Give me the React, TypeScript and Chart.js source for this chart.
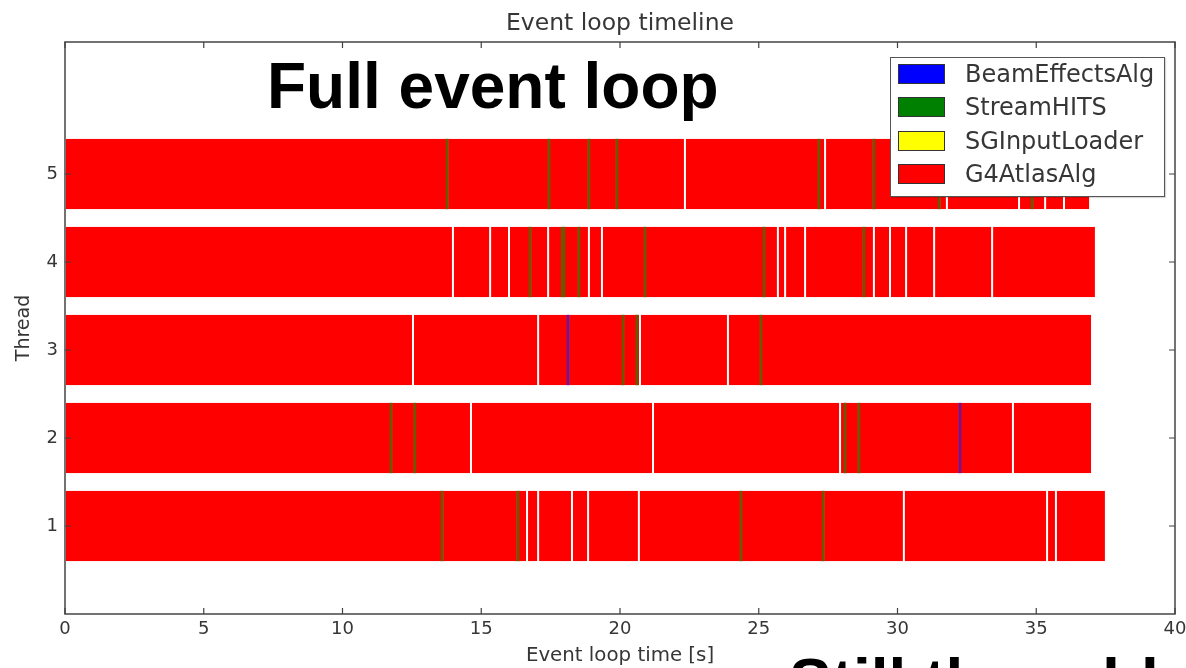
import React, { useEffect, useRef } from 'react';
import { Chart, registerables } from 'chart.js';

Chart.register(...registerables);

// ---------- data ----------
const threads = [1, 2, 3, 4, 5];
const seriesNames = ['BeamEffectsAlg', 'StreamHITS', 'SGInputLoader', 'G4AtlasAlg'];
const seriesColors = ['#0000ff', '#008000', '#ffff00', '#ff0000'];
// colours the thin marks take on top of the red bars in the picture
const markColors = ['rgb(112,20,150)', 'rgb(108,88,0)', '#ffff00', '#ff0000'];

// G4AtlasAlg event boundaries (seconds) for each thread
const g4Thread1 = [0, 13.59, 16.32, 16.65, 17.05, 18.27, 18.85, 20.68, 24.36, 27.32, 30.23, 35.39, 35.71, 37.51];
const g4Thread2 = [0, 11.75, 12.61, 14.63, 21.19, 27.93, 28.61, 32.25, 34.16, 37.01];
const g4Thread3 = [0, 12.54, 17.05, 18.13, 20.11, 20.72, 23.89, 25.08, 37.01];
const g4Thread4 = [0, 13.98, 15.32, 16.0, 16.76, 17.41, 17.95, 18.52, 18.88, 19.35, 20.9, 25.19, 25.69, 25.95, 26.67, 28.79, 29.15, 29.73, 30.31, 31.32, 33.41, 37.15];
const g4Thread5 = [0, 13.77, 17.44, 18.88, 19.89, 22.34, 27.17, 27.39, 29.15, 31.5, 31.78, 34.38, 34.85, 35.32, 36.0, 36.94];

// StreamHITS intervals [start, end] per thread
const hitsThread1 = [[13.54, 13.64], [16.27, 16.37], [24.31, 24.41], [27.27, 27.37]];
const hitsThread2 = [[11.7, 11.8], [12.56, 12.66], [28.06, 28.16], [28.56, 28.66]];
const hitsThread3 = [[20.06, 20.16], [20.56, 20.66], [25.03, 25.13]];
const hitsThread4 = [[16.71, 16.81], [17.87, 18.03], [18.47, 18.57], [20.85, 20.95], [25.14, 25.24], [28.74, 28.84]];
const hitsThread5 = [[13.72, 13.82], [17.39, 17.49], [18.83, 18.93], [19.84, 19.94], [27.12, 27.22], [29.1, 29.2], [31.45, 31.55], [34.8, 34.9]];

// BeamEffectsAlg intervals [start, end] per thread
const beamThread2 = [[32.2, 32.3]];
const beamThread3 = [[18.08, 18.18]];

// SGInputLoader intervals (none visible)
const sgThreadAll: number[][] = [];

const g4ByThread = [g4Thread1, g4Thread2, g4Thread3, g4Thread4, g4Thread5];
const hitsByThread = [hitsThread1, hitsThread2, hitsThread3, hitsThread4, hitsThread5];
const beamByThread = [[], beamThread2, beamThread3, [], []];
const sgByThread = [sgThreadAll, [], [], [], []];

const chartTitle = 'Event loop timeline';
const xTitle = 'Event loop time [s]';
const yTitle = 'Thread';

// ---------- helpers ----------
function edgesToPoints() {
  const pts: any[] = [];
  threads.forEach((t, i) => {
    const e = g4ByThread[i];
    for (let k = 0; k < e.length - 1; k++) pts.push({ y: t, x: [e[k], e[k + 1]] });
  });
  return pts;
}
function pairsToPoints(byThread: number[][][]) {
  const pts: any[] = [];
  threads.forEach((t, i) => {
    (byThread[i] || []).forEach((p) => pts.push({ y: t, x: [p[0], p[1]] }));
  });
  return pts;
}

const FONT = '"DejaVu Sans", "Bitstream Vera Sans", sans-serif';
const TEXT = '#363636';

const framePlugin = {
  id: 'frame',
  afterDatasetsDraw(chart: any) {
    const { ctx, chartArea: a, scales } = chart;
    ctx.save();
    ctx.strokeStyle = '#505050';
    ctx.lineWidth = 1.6;
    ctx.strokeRect(a.left, a.top, a.right - a.left, a.bottom - a.top);
    ctx.lineWidth = 1.2;
    ctx.strokeStyle = '#404040';
    const tl = 6;
    scales.x.ticks.forEach((t: any) => {
      const px = scales.x.getPixelForValue(t.value);
      ctx.beginPath();
      ctx.moveTo(px, a.bottom); ctx.lineTo(px, a.bottom - tl);
      ctx.moveTo(px, a.top); ctx.lineTo(px, a.top + tl);
      ctx.stroke();
    });
    scales.y.ticks.forEach((t: any) => {
      const py = scales.y.getPixelForValue(t.value);
      ctx.beginPath();
      ctx.moveTo(a.left, py); ctx.lineTo(a.left + tl, py);
      ctx.moveTo(a.right, py); ctx.lineTo(a.right - tl, py);
      ctx.stroke();
    });
    ctx.restore();
  },
};

function TimelineChart() {
  const ref = useRef<HTMLCanvasElement>(null);
  useEffect(() => {
    if (!ref.current) return;
    const chart = new Chart(ref.current, {
      type: 'bar',
      data: {
        datasets: [
          {
            label: seriesNames[0],
            data: pairsToPoints(beamByThread as any),
            backgroundColor: markColors[0],
            borderWidth: 0,
          },
          {
            label: seriesNames[1],
            data: pairsToPoints(hitsByThread as any),
            backgroundColor: markColors[1],
            borderWidth: 0,
          },
          {
            label: seriesNames[2],
            data: pairsToPoints(sgByThread as any),
            backgroundColor: markColors[2],
            borderWidth: 0,
          },
          {
            label: seriesNames[3],
            data: edgesToPoints(),
            backgroundColor: markColors[3],
            borderColor: 'rgba(255,255,255,0.85)',
            borderWidth: { left: 1, right: 1, top: 0, bottom: 0 } as any,
            borderSkipped: false as any,
          },
        ] as any,
      },
      options: {
        indexAxis: 'y',
        animation: false,
        responsive: true,
        maintainAspectRatio: false,
        datasets: {
          bar: { grouped: false, categoryPercentage: 1, barPercentage: 0.8 } as any,
        },
        layout: { padding: { left: 0, right: 11, top: 0, bottom: 0 } },
        plugins: {
          legend: { display: false },
          tooltip: { enabled: false },
          title: {
            display: true,
            text: chartTitle,
            fullSize: false,
            color: TEXT,
            font: { family: FONT, size: 23.5, weight: 'normal', lineHeight: 1.2 },
            padding: { top: 10, bottom: 3.8 },
          },
        },
        scales: {
          x: {
            type: 'linear',
            min: 0,
            max: 40,
            offset: false,
            ticks: { stepSize: 5, color: TEXT, font: { family: FONT, size: 18 }, padding: 5, maxRotation: 0 },
            grid: { display: false, drawTicks: false },
            border: { display: false },
            title: {
              display: true,
              text: xTitle,
              color: TEXT,
              font: { family: FONT, size: 19.8, lineHeight: 1.2 },
              padding: { top: 0, bottom: 0 },
            },
            afterFit: (s: any) => { s.height = 54; s.paddingLeft = 0; s.paddingRight = 0; },
          },
          y: {
            type: 'linear',
            min: 0,
            max: 6.5,
            offset: false,
            afterBuildTicks: (s: any) => { s.ticks = threads.map((v) => ({ value: v })); },
            ticks: { color: TEXT, font: { family: FONT, size: 18 }, padding: 7, callback: (v: any) => String(v) },
            grid: { display: false, drawTicks: false },
            border: { display: false },
            title: {
              display: true,
              text: yTitle,
              color: TEXT,
              font: { family: FONT, size: 19, lineHeight: 1.2 },
              padding: { top: 13, bottom: 0 },
            },
            afterFit: (s: any) => { s.width = 65; s.paddingTop = 0; s.paddingBottom = 0; },
          },
        },
      } as any,
      plugins: [framePlugin],
    });
    return () => chart.destroy();
  }, []);
  return <canvas ref={ref} />;
}

function Legend() {
  return (
    <div
      style={{
        position: 'absolute', left: 890, top: 57, width: 275, height: 140, boxSizing: 'border-box',
        border: '1.5px solid #555', background: '#fff', boxShadow: '1px 1px 1px rgba(0,0,0,0.15)',
      }}
    >
      {seriesNames.map((n, i) => (
        <div key={n} style={{ position: 'absolute', left: 0, top: 16 + i * 33.4 - 12, height: 24, width: '100%' }}>
          <div
            style={{
              position: 'absolute', left: 7, top: 2, width: 47, height: 20, boxSizing: 'border-box',
              background: seriesColors[i], border: '1.5px solid #333',
            }}
          />
          <div
            style={{
              position: 'absolute', left: 74, top: 0, height: 24, lineHeight: '24px',
              fontFamily: FONT, fontSize: 24, color: TEXT, whiteSpace: 'nowrap',
            }}
          >
            {n}
          </div>
        </div>
      ))}
    </div>
  );
}

export default function App() {
  return (
    <div style={{ position: 'fixed', left: 0, top: 0, width: 1186, height: 668, overflow: 'hidden', background: '#fff' }}>
      <div style={{ position: 'absolute', left: 0, top: 0, width: 1186, height: 668 }}>
        <TimelineChart />
      </div>
      <Legend />
      <div
        style={{
          position: 'absolute', left: 267, top: 54, fontFamily: '"Liberation Sans", Arial, sans-serif',
          fontWeight: 'bold', fontSize: 64, lineHeight: 1, color: '#000', whiteSpace: 'nowrap',
        }}
      >
        Full event loop
      </div>
      <div
        style={{
          position: 'absolute', left: 789, top: 650, fontFamily: '"Liberation Sans", Arial, sans-serif',
          fontWeight: 'bold', fontSize: 64, lineHeight: 1, color: '#000', whiteSpace: 'nowrap',
        }}
      >
        Still thread-local
      </div>
    </div>
  );
}
